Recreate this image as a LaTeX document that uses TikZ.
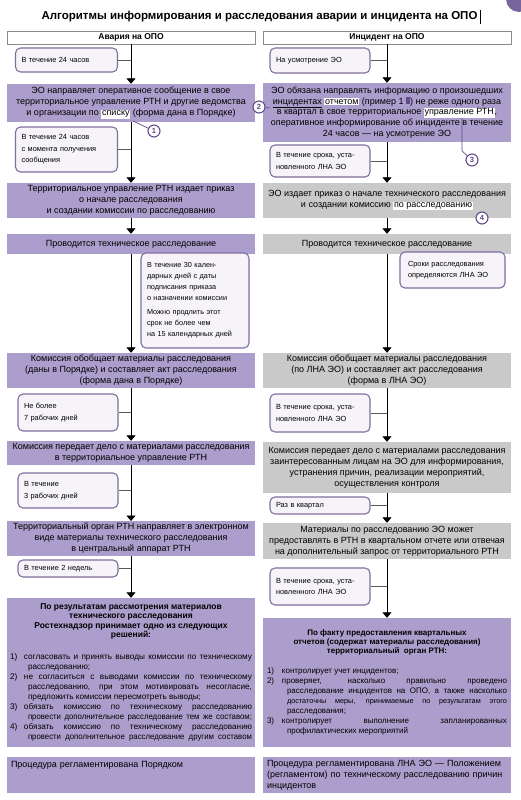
\documentclass[tikz,border=0pt]{standalone}
\usepackage{fontspec}
\setmainfont{Liberation Sans}
\newfontfamily\condfont{Liberation Sans}[FakeStretch=0.95]
\usetikzlibrary{arrows.meta}
\definecolor{purp}{RGB}{172,158,204}
\definecolor{grayb}{RGB}{201,201,201}
\definecolor{sborder}{RGB}{128,110,160}
\definecolor{sfill}{RGB}{246,244,249}
\definecolor{cdark}{RGB}{96,74,138}
\definecolor{hborder}{RGB}{140,140,140}
\newcommand{\hlw}[1]{{\setlength{\fboxsep}{0.8pt}\colorbox{white}{#1}}}
\setlength{\parindent}{0pt}
\tikzset{
  pbox/.style={rectangle, fill=purp, minimum width=248pt, inner sep=2pt, align=center, font=\fontsize{9}{11}\selectfont},
  gbox/.style={pbox, fill=grayb},
  hbox/.style={rectangle, draw=hborder, line width=0.6pt, fill=white, minimum width=248pt, minimum height=13pt, inner sep=1pt, font=\bfseries\fontsize{8.5}{10}\selectfont},
  sbox/.style={rectangle, rounded corners=5pt, draw=sborder, line width=1.1pt, fill=sfill, align=left, inner xsep=6pt, inner ysep=2pt, font=\fontsize{7.4}{11.5}\selectfont},
  flow/.style={draw=black, line width=0.8pt, -{Triangle[width=9pt,length=5.5pt]}},
  conn/.style={draw=black!65, line width=0.5pt},
  callout/.style={circle, draw=cdark, line width=1.1pt, fill=white, inner sep=0pt, minimum size=12pt, text=cdark, font=\bfseries\fontsize{7.5}{8}\selectfont},
  cline/.style={draw=cdark, line width=0.7pt}
}
\begin{document}
\begin{tikzpicture}[x=1pt,y=-1pt]
\useasboundingbox (0,0) rectangle (520,800);
\fill[white] (0,0) rectangle (520,800);
% corner badge
\fill[cdark!85] (519,-1) circle (13pt);
% title
\node[font=\bfseries\fontsize{11.5}{13}\selectfont, inner sep=1pt] (title) at (259.5,17) {Алгоритмы информирования и расследования аварии и инцидента на ОПО};
\draw[line width=0.5pt] ([xshift=1.5pt]title.north east) -- ([xshift=1.5pt]title.south east);

% headers
\node[hbox] (hL) at (131,37.5) {Авария на ОПО};
\node[hbox] (hR) at (387,37.5) {Инцидент на ОПО};

% ---------- left column ----------
\node[sbox, text width=90pt, minimum height=24pt] (sL1) at (66.5,60) {В течение 24 часов};
\node[pbox, minimum height=38pt] (bL1) at (131,103) {ЭО направляет оперативное сообщение в свое\\ территориальное управление РТН и другие ведомства\\ и организации по \hlw{списку} (форма дана в Порядке)};
\node[sbox, text width=90pt, minimum height=45pt] (sL2) at (66.5,149.5) {В течение 24 часов\\ с момента получения\\ сообщения};
\node[pbox, minimum height=35pt] (bL2) at (131,200.5) {Территориальное управление РТН издает приказ\\ о начале расследования\\ и создании комиссии по расследованию};
\node[pbox, minimum height=20pt] (bL3) at (131,244) {Проводится техническое расследование};
\node[sbox, text width=96pt, minimum height=95pt, font=\fontsize{7.3}{11}\selectfont] (sL3) at (195,300.5) {В течение 30 кален-\\ дарных дней с даты\\ подписания приказа\\ о назначении комиссии\\[3pt] Можно продлить этот\\ срок не более чем\\ на 15 календарных дней};
\node[pbox, minimum height=35pt] (bL4) at (131,370.5) {Комиссия обобщает материалы расследования\\ (даны в Порядке) и составляет акт расследования\\ (форма дана в Порядке)};
\node[sbox, text width=88pt, minimum height=37pt] (sL4) at (68,412.5) {Не более\\ 7 рабочих дней};
\node[pbox, minimum height=24pt] (bL5) at (131,453) {Комиссия передает дело с материалами расследования\\ в территориальное управление РТН};
\node[sbox, text width=88pt, minimum height=35pt] (sL5) at (68,490.5) {В течение\\ 3 рабочих дней};
\node[pbox, minimum height=33pt] (bL6) at (131,538.5) {Территориальный орган РТН направляет в электронном\\ виде материалы технического расследования\\ в центральный аппарат РТН};
\node[sbox, text width=88pt, minimum height=17pt] (sL6) at (68,568.5) {В течение 2 недель};
\node[pbox, minimum height=149pt, text width=242pt, inner xsep=3pt, align=justify] (bL7) at (131,672.5) {%
{\centering\bfseries\fontsize{8.5}{9.5}\selectfont По результатам рассмотрения материалов\\ технического расследования\\ Ростехнадзор принимает одно из следующих\\ решений:\par}
\vspace{12pt}
{\fontsize{8.2}{10}\selectfont
\hangindent=18pt\hangafter=1 \makebox[14pt][l]{1)}согласовать и принять выводы комиссии по техническому\linebreak расследованию;\par
\hangindent=18pt\hangafter=1 \makebox[14pt][l]{2)}не согласиться с выводами комиссии по техническому\linebreak расследованию, при этом мотивировать несогласие,\linebreak предложить комиссии пересмотреть выводы;\par
{\parfillskip=0pt \hangindent=18pt\hangafter=1 \makebox[14pt][l]{3)}обязать комиссию по техническому расследованию\linebreak {\condfont провести дополнительное расследование тем же составом;}\par}
{\parfillskip=0pt \hangindent=18pt\hangafter=1 \makebox[14pt][l]{4)}обязать комиссию по техническому расследованию\linebreak {\condfont провести дополнительное расследование другим составом}\par}}};
\node[pbox, minimum height=36pt, text width=240pt, inner xsep=4pt, align=left] (bL8) at (131,775) {Процедура регламентирована Порядком\\ \mbox{}\\ \mbox{}};

% ---------- right column ----------
\node[sbox, text width=88pt, minimum height=25pt] (sR1) at (320,60.5) {На усмотрение ЭО};
\node[pbox, minimum height=59pt, font=\fontsize{9}{10.8}\selectfont] (bR1) at (387,112.5) {ЭО обязана направлять информацию о произошедших\\ \underline{инцидентах} \hlw{отчетом} (пример 1 \textcolor{cdark}{\rule{4pt}{7pt}}) не реже одного раза\\ в квартал в свое территориальное \hlw{управление РТН},\\ оперативное информирование об инциденте в течение\\ 24 часов — на усмотрение ЭО};
\node[sbox, text width=88pt, minimum height=32pt] (sR2) at (320,161) {В течение срока, уста-\\ новленного ЛНА ЭО};
\node[gbox, minimum height=35pt] (bR2) at (387,200.5) {ЭО издает приказ о начале технического расследования\\ и создании комиссию \hlw{по расследованию}};
\node[gbox, minimum height=20pt] (bR3) at (387,244) {Проводится техническое расследование};
\node[sbox, text width=89pt, inner xsep=8pt, minimum height=36pt] (sR3) at (452.5,270) {Сроки расследования\\ определяются ЛНА ЭО};
\node[gbox, minimum height=35pt] (bR4) at (387,370.5) {Комиссия обобщает материалы расследования\\ (по ЛНА ЭО) и составляет акт расследования\\ (форма в ЛНА ЭО)};
\node[sbox, text width=88pt, minimum height=38pt] (sR4) at (320,413) {В течение срока, уста-\\ новленного ЛНА ЭО};
\node[gbox, minimum height=51pt] (bR5) at (387,467.5) {Комиссия передает дело с материалами расследования\\ заинтересованным лицам на ЭО для информирования,\\ устранения причин, реализации мероприятий,\\ осуществления контроля};
\node[sbox, text width=88pt, minimum height=17pt] (sR5) at (320,505.5) {Раз в квартал};
\node[gbox, minimum height=36pt] (bR6) at (387,541) {Материалы по расследованию ЭО может\\ предоставлять в РТН в квартальном отчете или отвечая\\ на дополнительный запрос от территориального РТН};
\node[sbox, text width=88pt, minimum height=37pt] (sR6) at (320,586.5) {В течение срока, уста-\\ новленного ЛНА ЭО};
\node[pbox, minimum height=129pt, text width=240pt, inner xsep=4pt, align=justify] (bR7) at (387,682.5) {%
{\centering\bfseries\fontsize{8}{8.8}\selectfont По факту предоставления квартальных\\ отчетов (содержат материалы расследования)\\ территориальный\ \ орган РТН:\par}
\vspace{10pt}
{\fontsize{8}{10}\selectfont
\hangindent=20pt\hangafter=1 \makebox[15pt][l]{1)}контролирует учет инцидентов;\par
\hangindent=20pt\hangafter=1 \makebox[15pt][l]{2)}проверяет, насколько правильно проведено\linebreak расследование инцидентов на ОПО, а также насколько\linebreak {\fontsize{7.3}{10}\selectfont достаточны меры, принимаемые по результатам этого}\linebreak расследования;\par
\hangindent=20pt\hangafter=1 \makebox[15pt][l]{3)}контролирует выполнение запланированных\linebreak профилактических мероприятий\par}};
\node[pbox, minimum height=36pt, text width=240pt, inner xsep=4pt, align=left] (bR8) at (387,775) {Процедура регламентирована ЛНА ЭО — Положением\\ (регламентом) по техническому расследованию причин\\ инцидентов};

% ---------- flow arrows ----------
\draw[flow] (hL.south) -- (bL1.north);
\draw[flow] (bL1.south) -- (bL2.north);
\draw[flow] (bL2.south) -- (bL3.north);
\draw[flow] (bL3.south) -- (bL4.north);
\draw[flow] (bL4.south) -- (bL5.north);
\draw[flow] (bL5.south) -- (bL6.north);
\draw[flow] (bL6.south) -- (bL7.north);
\draw[flow] (hR.south) -- (bR1.north);
\draw[flow] (bR1.south) -- (bR2.north);
\draw[flow] (bR2.south) -- (bR3.north);
\draw[flow] (bR3.south) -- (bR4.north);
\draw[flow] (bR4.south) -- (bR5.north);
\draw[flow] (bR5.south) -- (bR6.north);
\draw[flow] (bR6.south) -- (bR7.north);

% ---------- side connectors ----------
\foreach \s in {sL1,sL2,sL4,sL5,sL6} \draw[conn] (\s.east) -- (\s.east -| hL.south);
\foreach \s in {sR1,sR2,sR4,sR5,sR6} \draw[conn] (\s.east) -- (\s.east -| hR.south);

% ---------- callouts ----------
\coordinate (p1) at (133,121);
\coordinate (p2) at (270,108);
\coordinate (p3a) at (462,118);
\coordinate (p3b) at (462,151);
\node[callout] (c1) at (154,131) {1};
\node[callout] (c2) at (259,107) {2};
\node[callout] (c3) at (472,160) {3};
\node[callout] (c4) at (482,218) {4};
\draw[cline] (p1) -- (c1);
\draw[cline] (c2) -- (p2);
\draw[cline] (p3a) -- (p3b) -- (c3);
\end{tikzpicture}
\end{document}
